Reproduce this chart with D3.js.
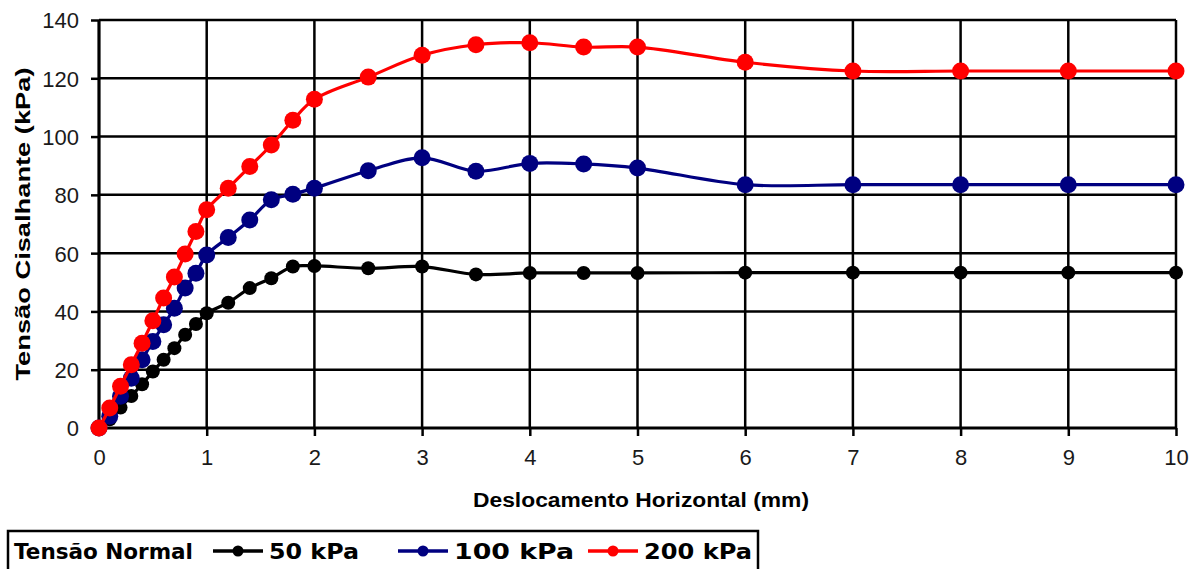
<!DOCTYPE html>
<html><head><meta charset="utf-8">
<script src="https://cdn.jsdelivr.net/npm/d3@7"></script>
<style>html,body{margin:0;padding:0;background:#fff;}svg{display:block;}</style>
</head><body>
<svg id="chart" width="1195" height="569"></svg>
<script>
const displacement = [0,0.1,0.2,0.3,0.4,0.5,0.6,0.7,0.8,0.9,1.0,1.2,1.4,1.6,1.8,2.0,2.5,3,3.5,4,4.5,5,6,7,8,9,10];
const shear50  = [0,3,7,11,15,19.4,23.4,27.4,32,35.7,39.4,43,48,51.4,55.4,55.6,54.8,55.4,52.7,53.2,53.2,53.2,53.3,53.3,53.3,53.3,53.3];
const shear100 = [0,4,10.9,17.1,23.4,29.7,35.4,41.1,48,53.1,59.4,65.4,71.4,78.3,80.2,82.3,88.3,92.7,88.1,90.8,90.6,89.2,83.5,83.5,83.5,83.5,83.5];
const shear200 = [0,6.9,14.3,21.7,29.1,36.8,44.6,51.8,59.7,67.4,74.9,82.3,89.7,97.1,105.6,112.8,120.4,127.9,131.5,132.2,130.7,130.7,125.5,122.5,122.5,122.5,122.5];
const seriesNames = ["50 kPa","100 kPa","200 kPa"];
const seriesColors = ["#000000","#000080","#ff0000"];
const xTicks = [0,1,2,3,4,5,6,7,8,9,10];
const yTicks = [0,20,40,60,80,100,120,140];
const xTitle = "Deslocamento Horizontal (mm)";
const yTitle = "Tensão Cisalhante (kPa)";
const legendTitle = "Tensão Normal";

const series = [shear50, shear100, shear200].map((vals,i)=>({
  name: seriesNames[i], color: seriesColors[i],
  r: i===0 ? 7 : 8.5,
  pts: displacement.map((d,j)=>({x:d,y:vals[j]}))
}));

const svg = d3.select("#chart");
const L=99, R=1176, T=20, B=428;
const x = d3.scaleLinear().domain([0,10]).range([L,R]);
const y = d3.scaleLinear().domain([0,140]).range([B,T]);

// grid
const g = svg.append("g");
g.selectAll("line.h").data(yTicks.filter(v=>v>0)).join("line")
  .attr("x1",L).attr("x2",R).attr("y1",d=>y(d)).attr("y2",d=>y(d))
  .attr("stroke","#000").attr("stroke-width",2.5);
g.selectAll("line.v").data(xTicks.filter(v=>v>0)).join("line")
  .attr("y1",T).attr("y2",B).attr("x1",d=>x(d)).attr("x2",d=>x(d))
  .attr("stroke","#000").attr("stroke-width",2.5);

// axes
const xAxis = svg.append("g").attr("transform",`translate(0,${B})`)
  .call(d3.axisBottom(x).tickValues(xTicks).tickSize(8).tickPadding(8).tickFormat(d3.format("d")));
const yAxis = svg.append("g").attr("transform",`translate(${L},0)`)
  .call(d3.axisLeft(y).tickValues(yTicks).tickSize(8).tickPadding(12).tickFormat(d3.format("d")));
[xAxis,yAxis].forEach(a=>{
  a.select(".domain").attr("stroke","#000").attr("stroke-width",3.2);
  a.selectAll(".tick line").attr("stroke","#000").attr("stroke-width",2.5);
  a.selectAll(".tick text").attr("fill","#1a1a1a").style("font-family","'Liberation Sans',Arial,sans-serif").style("font-size","22px");
});
xAxis.select(".domain").attr("d",`M${L},0H${R}`);
yAxis.select(".domain").attr("d",`M0,${B}V${T}`);
xAxis.selectAll(".tick text").attr("dy","0.95em");
yAxis.selectAll(".tick text").attr("dy","0.36em");

// series
const line = d3.line().x(d=>x(d.x)).y(d=>y(d.y)).curve(d3.curveCatmullRom.alpha(0.5));
series.forEach(s=>{
  svg.append("path").datum(s.pts).attr("d",line).attr("fill","none")
    .attr("stroke",s.color).attr("stroke-width",3.2);
  svg.append("g").selectAll("circle").data(s.pts).join("circle")
    .attr("cx",d=>x(d.x)).attr("cy",d=>y(d.y)).attr("r",s.r).attr("fill",s.color);
});

// titles
svg.append("text").attr("x",641).attr("y",507).attr("text-anchor","middle")
  .style("font-family","'Liberation Sans',Arial,sans-serif").style("font-weight","bold").style("font-size","20px")
  .attr("textLength",336).attr("lengthAdjust","spacingAndGlyphs").text(xTitle);
svg.append("text").attr("transform","translate(30,224) rotate(-90)").attr("text-anchor","middle")
  .style("font-family","'Liberation Sans',Arial,sans-serif").style("font-weight","bold").style("font-size","21px")
  .attr("textLength",313).attr("lengthAdjust","spacingAndGlyphs").text(yTitle);

// legend
const lg = svg.append("g");
lg.append("rect").attr("x",8).attr("y",531).attr("width",750).attr("height",50)
  .attr("fill","#fff").attr("stroke","#000").attr("stroke-width",2.5);
const lfont = sel=>sel.style("font-family","'DejaVu Sans',Verdana,sans-serif").style("font-weight","bold").style("font-size","21px");
lg.append("text").attr("x",14).attr("y",559).call(lfont)
  .attr("textLength",179).attr("lengthAdjust","spacingAndGlyphs").text(legendTitle);
const legX = [213,398,588];
const legW = [90,120,108];
series.forEach((s,i)=>{
  lg.append("line").attr("x1",legX[i]).attr("x2",legX[i]+50).attr("y1",551).attr("y2",551)
    .attr("stroke",s.color).attr("stroke-width",3.5);
  lg.append("circle").attr("cx",legX[i]+25).attr("cy",551).attr("r",5.5).attr("fill",s.color);
  lg.append("text").attr("x",legX[i]+56).attr("y",559).call(lfont)
    .attr("textLength",legW[i]).attr("lengthAdjust","spacingAndGlyphs").text(s.name);
});
</script>
</body></html>
